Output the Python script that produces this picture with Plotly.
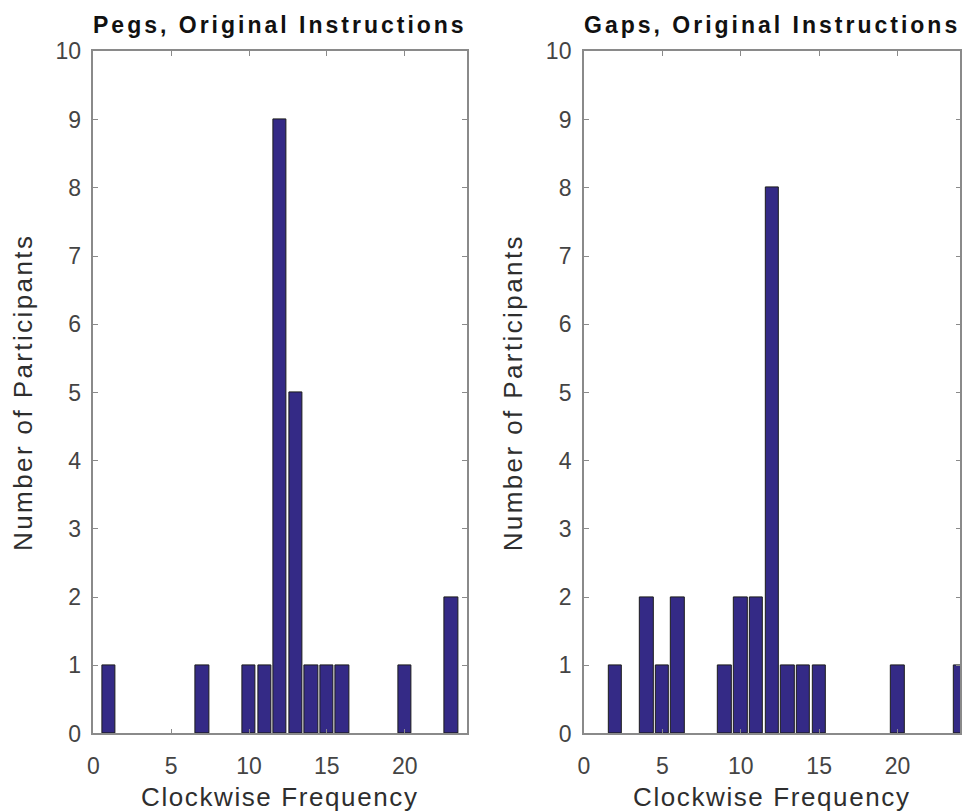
import plotly.graph_objects as go

# Histogram counts per clockwise-frequency bin
pegs_freq = [1, 7, 10, 11, 12, 13, 14, 15, 16, 20, 23]
pegs_count = [1, 1, 1, 1, 9, 5, 1, 1, 1, 1, 2]

gaps_freq = [2, 4, 5, 6, 9, 10, 11, 12, 13, 14, 15, 20, 24]
gaps_count = [1, 2, 1, 2, 1, 2, 2, 8, 1, 1, 1, 1, 1]

panel_titles = ["Pegs, Original Instructions", "Gaps, Original Instructions"]
x_label = "Clockwise Frequency"
y_label = "Number of Participants"
x_ticks = [0, 5, 10, 15, 20]
y_ticks = list(range(0, 11))

W, H = 972, 811
FONT = "Arial, Liberation Sans, Helvetica, sans-serif"
BAR_FILL = "#342a86"
BAR_EDGE = "#1c1c1c"
AXIS_COL = "#8a8a8a"
TEXT_COL = "#444444"


def py(d):
    """pixel row -> paper fraction"""
    return 1 - ((d - 12) / 0.97) / H


def px(d):
    """pixel column -> paper fraction"""
    return ((d - 4.5) / 0.995) / W


# pixel boxes of the two axes
left_box = (92, 466)
right_box = (583, 960)
top_px, bottom_px = 50.5, 734

fig = go.Figure()
for i, (xs, ys) in enumerate([(pegs_freq, pegs_count), (gaps_freq, gaps_count)]):
    sfx = "" if i == 0 else "2"
    fig.add_trace(go.Bar(x=xs, y=ys, width=0.86,
                         marker=dict(color=BAR_FILL, line=dict(color=BAR_EDGE, width=1)),
                         xaxis="x" + sfx, yaxis="y" + sfx, showlegend=False))

ydom = [py(bottom_px), py(top_px)]

common_x = dict(range=[0, 24], tickvals=x_ticks, ticks="inside", ticklen=5,
                tickcolor=AXIS_COL, showline=True, linecolor=AXIS_COL, linewidth=1.5,
                mirror="ticks", showgrid=False, zeroline=False, ticklabelstandoff=11,
                tickfont=dict(family=FONT, size=23, color=TEXT_COL))
common_y = dict(range=[0, 10], tickvals=y_ticks, ticks="inside", ticklen=5,
                tickcolor=AXIS_COL, showline=True, linecolor=AXIS_COL, linewidth=1.5,
                mirror="ticks", showgrid=False, zeroline=False, domain=ydom,
                ticklabelstandoff=6,
                tickfont=dict(family=FONT, size=23, color=TEXT_COL))

fig.update_layout(
    width=W, height=H,
    margin=dict(l=0, r=0, t=0, b=0),
    paper_bgcolor="white", plot_bgcolor="white",
    bargap=0,
    xaxis=dict(domain=[px(left_box[0]), px(left_box[1])], anchor="y", **common_x),
    yaxis=dict(anchor="x", **common_y),
    xaxis2=dict(domain=[px(right_box[0]), px(right_box[1])], anchor="y2", **common_x),
    yaxis2=dict(anchor="x2", **common_y),
)


def spaced(text, sp):
    return f'<span style="letter-spacing:{sp}px">{text}</span>'


annotations = []
for box, title in zip([left_box, right_box], panel_titles):
    cx = px((box[0] + box[1]) / 2)
    annotations.append(dict(text="<b>" + spaced(title, 3) + "</b>", x=cx, y=py(24),
                            xref="paper", yref="paper", xanchor="center", yanchor="middle",
                            showarrow=False, font=dict(family=FONT, size=23, color="#111111")))
    annotations.append(dict(text=spaced(x_label, 1.6), x=cx, y=py(798),
                            xref="paper", yref="paper", xanchor="center", yanchor="middle",
                            showarrow=False, font=dict(family=FONT, size=26, color="#2e2e2e")))
    annotations.append(dict(text=spaced(y_label, 2.4), x=px(box[0] - 70), y=(ydom[0] + ydom[1]) / 2,
                            xref="paper", yref="paper", textangle=-90,
                            xanchor="center", yanchor="middle", showarrow=False,
                            font=dict(family=FONT, size=26, color="#2e2e2e")))
fig.update_layout(annotations=annotations)

fig.write_html("out.html")
